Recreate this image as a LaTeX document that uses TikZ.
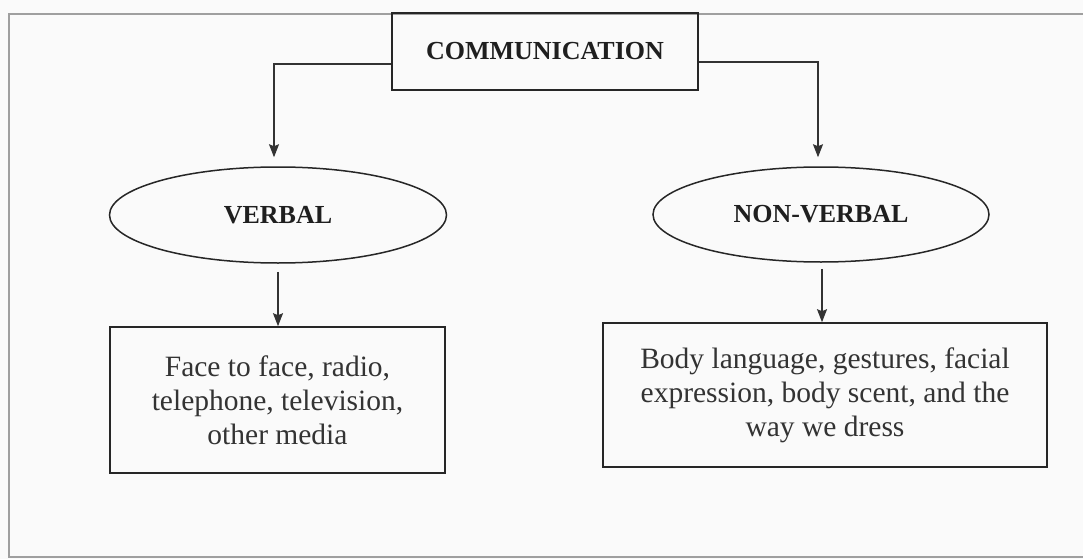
\documentclass[tikz,border=0pt]{standalone}
\usepackage{fontspec}
\setmainfont{Liberation Serif}
\usetikzlibrary{arrows.meta,shapes.geometric}
\begin{document}
\begin{tikzpicture}[x=1pt,y=-1pt,
  head/.style={font=\fontsize{26}{30}\selectfont\bfseries,text=black!88},
  topbox/.style={draw=black!85,line width=1.6pt,minimum width=306pt,minimum height=77pt,inner sep=0pt,head},
  kind/.style={ellipse,draw=black!85,line width=1.5pt,minimum width=337pt,minimum height=96pt,inner sep=0pt,head},
  listbox/.style={draw=black!85,line width=1.6pt,inner sep=0pt,align=center,text=black!80,font=\fontsize{29.5}{34}\selectfont},
  link/.style={draw=black!80,line width=1.2pt,-{Stealth[length=13pt,width=10pt,inset=2pt]}}]
\useasboundingbox[fill=black!2] (0,0) rectangle (1083,559);
% outer frame
\draw[gray!75,line width=1.8pt] (1083,14) -- (9,14) -- (9,557) -- (1083,557);
% main box and the two kinds
\node[topbox] (comm) at (545,51.5) {COMMUNICATION};
\node[kind] (verbal) at (278,215) {VERBAL};
\node[kind,minimum width=336pt,minimum height=95pt] (nonverbal) at (821,214.5) {NON-VERBAL};
% examples
\node[listbox,minimum width=335pt,minimum height=146pt] (verbalbox) at (277.5,400)
  {Face to face, radio,\\ telephone, television,\\ other media};
\node[listbox,minimum width=444pt,minimum height=144pt] (nonverbalbox) at (825,395)
  {Body language, gestures, facial\\ expression, body scent, and the\\ way we dress};
% connectors
\draw[link,shorten >=9pt] ([yshift=-12.5pt]comm.west) -| ([xshift=-4pt]verbal.north);
\draw[link,shorten >=9pt] ([yshift=-10.5pt]comm.east) -| ([xshift=-3pt]nonverbal.north);
\draw[link,shorten <=8pt] (verbal.south) -- (verbal.south |- verbalbox.north);
\draw[link,shorten <=6pt] ([xshift=1pt]nonverbal.south) -- ([xshift=1pt]nonverbal.south |- nonverbalbox.north);
\end{tikzpicture}
\end{document}
